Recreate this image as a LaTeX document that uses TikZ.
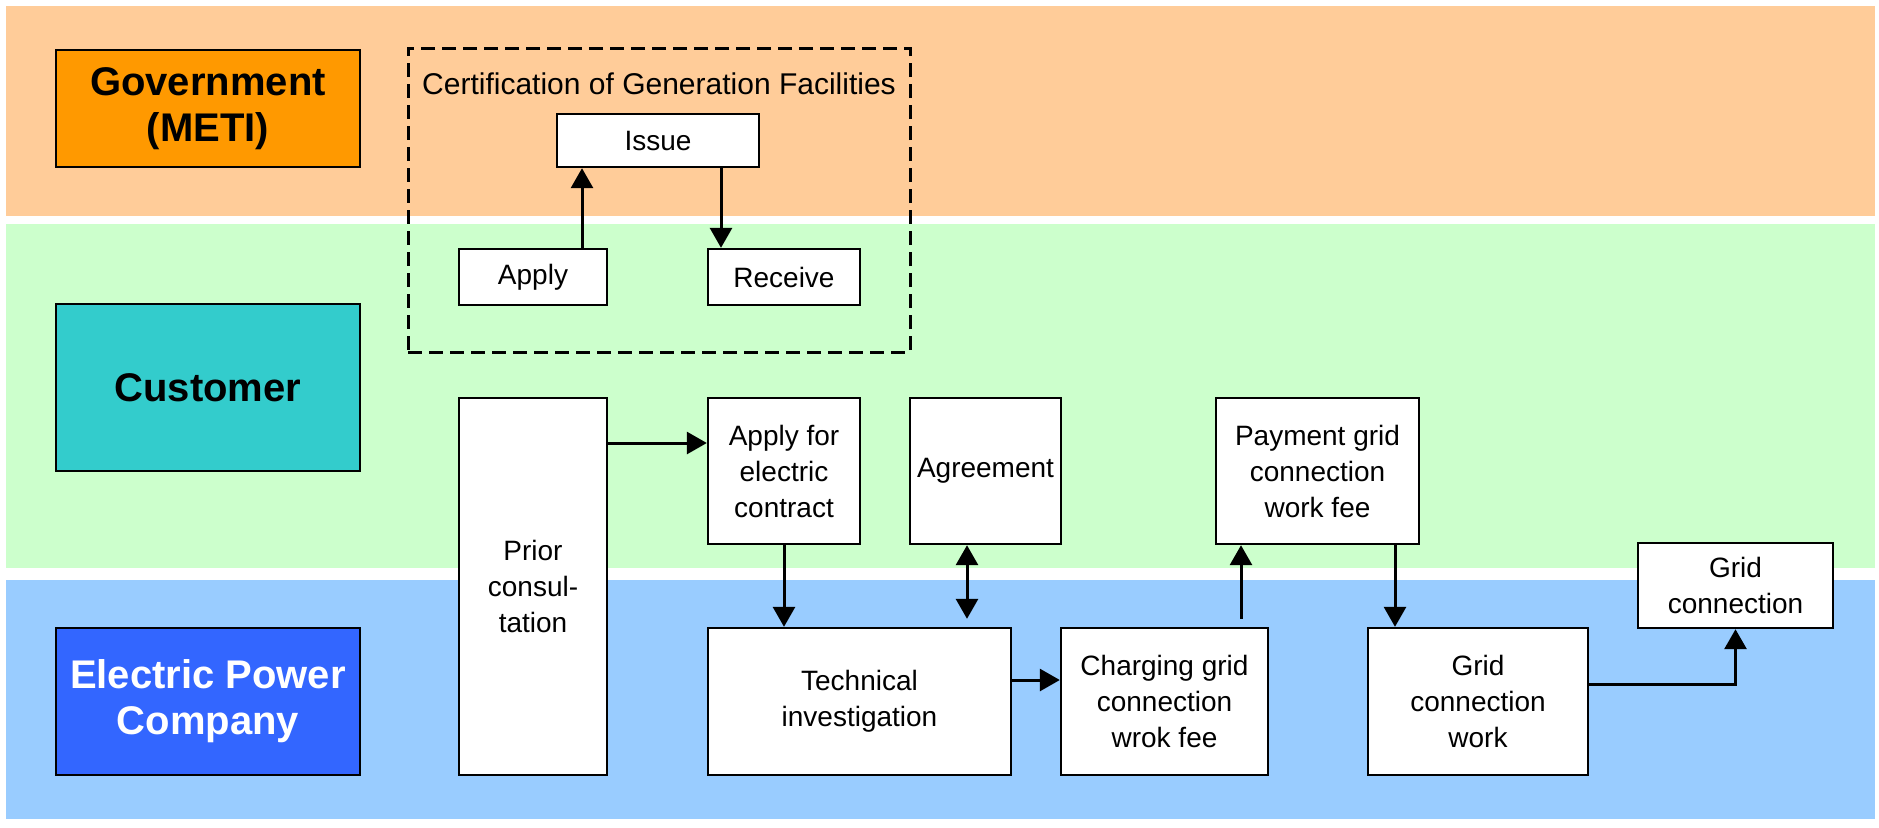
\documentclass[tikz,border=0pt]{standalone}
\usepackage{fontspec}
\setmainfont{Liberation Sans}
\usetikzlibrary{arrows.meta}
\tikzset{>={Triangle[length=10pt,width=11pt]}}

\definecolor{govlane}{HTML}{FFCC99}
\definecolor{custlane}{HTML}{CCFFCC}
\definecolor{epcolane}{HTML}{99CCFF}
\definecolor{govfill}{HTML}{FF9900}
\definecolor{custfill}{HTML}{33CCCC}
\definecolor{epcofill}{HTML}{3366FF}

\begin{document}
\begin{tikzpicture}[x=0.5pt, y=-0.5pt,
    actor/.style={draw, line width=1.2pt, minimum width=152pt, align=center,
        font=\fontsize{20}{23}\selectfont\bfseries},
    task/.style={draw, line width=1.2pt, fill=white, align=center, inner sep=1pt,
        font=\fontsize{14}{18}\selectfont},
    flow/.style={->, line width=1.5pt}]
    \useasboundingbox (0, 0) rectangle (1879, 827);
    % swim lanes
    \fill[govlane](6, 6)rectangle(1875, 216);
    \fill[custlane](6, 224)rectangle(1875, 568);
    \fill[epcolane](6, 580)rectangle(1875, 819);
    \node[actor, fill=govfill, minimum height=58.5pt] (gov) at (208, 108.5) {Government\\(METI)};
    \node[actor, fill=custfill, minimum height=83.5pt] (cust) at (208, 387.5) {Customer};
    \node[actor, fill=epcofill, text=white, minimum height=73.5pt] (epco) at (208, 701.5) {Electric Power\\Company};

    % certification
    \node[draw, line width=1.5pt, dash pattern=on 7pt off 3.5pt, minimum width=251pt, minimum height=152pt] (cert) at (659, 200) {};
    \node[font=\fontsize{15}{18}\selectfont] (certtitle) at (659, 84) {Certification of Generation Facilities};
    \node[task, minimum width=101pt, minimum height=26.5pt] (issue) at (658, 140.5) {Issue};
    \node[task, minimum width=74pt, minimum height=28pt] (apply) at (533, 277) {Apply};
    \node[task, minimum width=76pt, minimum height=28pt] (receive) at (784, 277) {Receive};
    \draw[flow]([xshift=24.5pt]apply.north)--([xshift=24.5pt]apply.north |- issue.south);
    \draw[flow]([xshift=-31.5pt]receive.north |- issue.south)--([xshift=-31.5pt]receive.north);

    % connection procedure
    \node[task, minimum width=74pt, minimum height=188.5pt] (prior) at (533, 586.5) {Prior\\consul-\\tation};
    \node[task, minimum width=76pt, minimum height=73pt] (contract) at (784, 471) {Apply for\\electric\\contract};
    \node[task, minimum width=75.5pt, minimum height=73pt] (agree) at (985.5, 471) {Agreement};
    \node[task, minimum width=151.5pt, minimum height=73.5pt] (tech) at (859.5, 701.5) {Technical\\investigation};
    \node[task, minimum width=103.5pt, minimum height=73.5pt] (charge) at (1164.5, 701.5) {Charging grid\\connection\\wrok fee};
    \node[task, minimum width=101.5pt, minimum height=73pt] (pay) at (1317.5, 471) {Payment grid\\connection\\work fee};
    \node[task, minimum width=110pt, minimum height=73.5pt] (work) at (1478, 701.5) {Grid\\connection\\work};
    \node[task, minimum width=97.5pt, minimum height=42.5pt] (grid) at (1735.5, 585.5) {Grid\\connection};

    \draw[flow]([yshift=14pt]contract.west -| prior.east)--([yshift=14pt]contract.west);
    \draw[flow](contract.south)--(contract.south |- tech.north);
    \draw[<->, line width=1.5pt]([xshift=-9.25pt]agree.south)--([xshift=-9.25pt, yshift=4pt]agree.south |- tech.north);
    \draw[flow]([yshift=10.75pt]tech.east)--([yshift=10.75pt]tech.east -| charge.west);
    \draw[flow]([xshift=38.25pt, yshift=4pt]charge.north)--([xshift=38.25pt]charge.north |- pay.south);
    \draw[flow]([xshift=38.75pt]pay.south)--([xshift=38.75pt]pay.south |- work.north);
    \draw[flow]([yshift=8.75pt]work.east)-|(grid.south);
\end{tikzpicture}
\end{document}
